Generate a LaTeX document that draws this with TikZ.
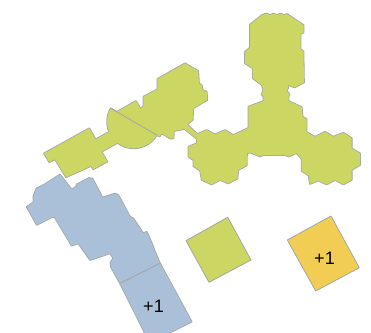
\documentclass[tikz,border=0pt]{standalone}
\usepackage{fontspec}
\setmainfont{Liberation Sans}
\definecolor{gfill}{RGB}{203,215,98}
\definecolor{bfill}{RGB}{170,192,216}
\definecolor{yfill}{RGB}{241,206,83}
\definecolor{edgec}{RGB}{165,165,165}
\tikzset{
  edge/.style={draw=edgec, line width=0.8pt, line join=round},
  outline/.style={draw=edgec, line width=1.6pt, line join=round},
  lbl/.style={font=\fontsize{18}{20}\selectfont, text=black, inner sep=0pt}
}
\begin{document}
\begin{tikzpicture}[x=1pt,y=-1pt]
\useasboundingbox (0,0) rectangle (371,332);
\clip (0,0) rectangle (371,332);
\fill[white] (0,0) rectangle (371,332);

% ---------- blue building ----------
\def\bUp{(60,174.5) -- (71.7,189.5) -- (76.5,186.5) -- (76.5,184.5) -- (89,178) -- (92.5,178.5) -- (102.5,197.5) -- (115,193.5) -- (118.3,195) -- (130,216.7) -- (133.3,218.3) -- (143.3,233.3) -- (146.7,231.7) -- (148.3,235) -- (153.3,246.7) -- (154.3,250) -- (160,263.3) -- (120,283.3) -- (110.7,266.5) -- (110.7,262) -- (113.3,258.3) -- (110,253.3) -- (102,256) -- (90,260) -- (78.3,243.3) -- (71.7,245.7) -- (55,217.7) -- (52.7,216.7) -- (36.7,225) -- (26.7,206.7) -- (33.3,202.5) -- (33.5,196) -- (36.5,188.5) -- (43.5,185) -- cycle}
\def\bLow{(120,283.3) -- (160,263.3) -- (191.7,321.7) -- (149.7,342.7) -- cycle}
\path[outline] \bUp \bLow;
\fill[bfill] \bUp;
\fill[bfill] \bLow;
\draw[edge] (120,283.3) -- (160,263.3);

% ---------- green complex ----------
\def\gLeft{(44,153.3) -- (89.3,128.3) -- (95.7,139.3) -- (112,130.2) -- (119.2,142) -- (101.7,151.7) -- (107.3,161.7) -- (93.3,169.3) -- (91,166) -- (66,177.3) -- (55,159.3) -- (49.3,162.3) -- cycle}
\def\gSemi{(110.7,108.3) -- plot[domain=210.2:30,samples=60] ({133.7+26.6*cos(\x)},{121.7+26.6*sin(\x)}) -- cycle}
\def\gMid{(116.7,111.8) -- (136,101) -- (139,106) -- (140,108.3) -- (143.3,106.7) -- (143.3,96.7) -- (157.3,89.3) -- (157.3,79) -- (185,63.3) -- (198.3,71) -- (199,83.3) -- (201.7,85) -- (202.7,90) -- (206.7,91.7) -- (207.3,100) -- (193.3,108.3) -- (192.7,120) -- (187,124.5) -- (199,135.4) -- (199,140.5) -- (184.5,129) -- (174,131) -- (173.5,138.5) -- (170,138.5) -- (162,133.5) -- (159.5,136.5) -- (156.7,135) -- cycle}
\def\gRight{(250,24.5) -- (262,15) -- (266.5,13.5) -- (270,15) -- (273.5,13.5) -- (277,15) -- (280.5,13.5) -- (284,15) -- (287,14) -- (303.5,25) -- (303.5,32.5) -- (300.5,34) -- (300.5,49) -- (303.5,51.5) -- (304,82.5) -- (294.5,87.5) -- (288.5,85) -- (288,88) -- (286.5,91) -- (289.5,94) -- (288.5,97) -- (288.5,101) -- (301.7,107) -- (302.7,116.7) -- (306.5,119) -- (306.5,132) -- (315,136.7) -- (325,131.7) -- (333.3,136.7) -- (343.3,132.7) -- (351.7,138) -- (351.7,148.3) -- (360,153.3) -- (360,165) -- (351.7,170) -- (351.7,180) -- (343.3,184.5) -- (335,180) -- (326.7,184.5) -- (318.3,180.5) -- (310,184) -- (308.5,175.5) -- (301.7,171) -- (301.7,159) -- (296.5,153) -- (289,156.5) -- (284,155) -- (264,155) -- (260,156.5) -- (250,152.5) -- (247,153.5) -- (246.7,165.5) -- (238.3,170) -- (237.5,178.5) -- (228.3,183.5) -- (220,180) -- (211.7,184.5) -- (201.7,180) -- (200,170.5) -- (193.3,166) -- (193.3,160) -- (188.3,156.7) -- (188.3,146.7) -- (196.7,143.3) -- (196.7,134.3) -- (206.7,130) -- (215,134.3) -- (225,130) -- (233.3,135) -- (248.3,128) -- (248.3,106.7) -- (263.3,101) -- (263.3,96.5) -- (261.7,94.5) -- (263.3,90) -- (261.7,85) -- (252.7,78.3) -- (252.7,68.3) -- (245,63.3) -- (245,51.7) -- (250,47.5) -- cycle}
\path[outline] \gLeft \gSemi \gMid \gRight;
\fill[gfill] \gLeft;
\fill[gfill] \gSemi;
\fill[gfill] \gMid;
\fill[gfill] \gRight;
\draw[edge] (110.7,108.3) -- (156.7,135);

% ---------- free squares ----------
\draw[edge, fill=gfill] (186,240.7) -- (227.7,217.3) -- (251,260) -- (209,282.3) -- cycle;
\draw[edge, fill=yfill] (287.3,240) -- (331,216) -- (359.3,267.7) -- (315.7,291) -- cycle;

% ---------- labels ----------
\node[lbl] (blueplus) at (153.5,306.5) {+1};
\node[lbl] (yellowplus) at (324.5,258.5) {+1};
\end{tikzpicture}
\end{document}
